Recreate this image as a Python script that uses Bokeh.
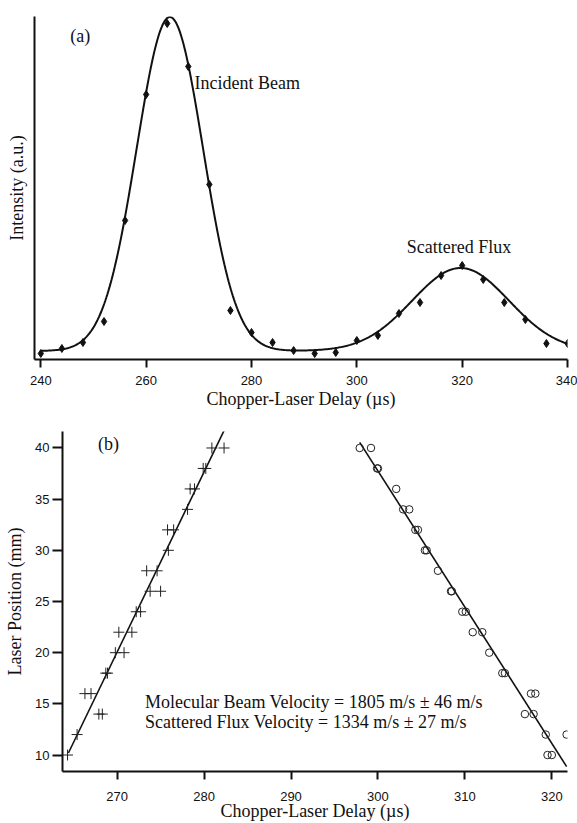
import numpy as np
from bokeh.plotting import figure
from bokeh.models import Range1d, FixedTicker
from bokeh.core.properties import value
from bokeh.embed import file_html
from bokeh.resources import INLINE

# ---------------- Panel (a) data ----------------
delay_a = [240, 244, 248, 252, 256, 260, 264, 268, 272, 276, 280, 284, 288,
           292, 296, 300, 304, 308, 312, 316, 320, 324, 328, 332, 336, 340]
intensity_a = [6, 11, 17, 38, 139, 265, 336, 293, 175, 49, 27, 17, 9,
               6, 7, 19, 24, 46, 57, 84, 94, 80, 57, 40, 16, 16]
# fit parameters (two gaussians on a baseline)
fit_baseline = 8.5
fit_amp = [334, 83]
fit_center = [264.5, 319.7]
fit_sigma = [6.3, 9.2]

# ---------------- Panel (b) data ----------------
pos_beam = [40, 40, 38, 38, 36, 36, 34, 32, 32, 30, 28, 28, 26, 26, 24, 24,
            22, 22, 20, 20, 18, 18, 16, 16, 14, 14, 12, 10]
delay_beam = [280.9, 282.3, 279.9, 280.2, 278.4, 278.9, 278.1, 275.8, 276.5, 275.9,
              273.4, 274.6, 273.8, 275.0, 272.2, 272.7, 270.2, 271.7, 269.8, 270.8,
              268.7, 268.9, 266.3, 267.0, 267.9, 268.3, 265.4, 264.3]
pos_flux = [40, 40, 38, 38, 36, 34, 34, 32, 32, 30, 30, 28, 26, 26, 24, 24,
            22, 22, 20, 18, 18, 16, 16, 14, 14, 12, 12, 10, 10]
delay_flux = [297.9, 299.2, 299.9, 300.0, 302.1, 302.9, 303.6, 304.3, 304.6, 305.4,
              305.6, 306.9, 308.4, 308.5, 309.7, 310.1, 310.9, 312.0, 312.8, 314.3,
              314.6, 317.6, 318.1, 316.9, 317.9, 319.3, 321.7, 319.5, 320.0]
fitline_beam_x = [264.4, 282.3]
fitline_beam_y = [10.2, 41.7]
fitline_flux_x = [297.9, 321.7]
fitline_flux_y = [40.55, 8.87]

xticks_a = [240, 260, 280, 300, 320, 340]
xticks_b = [270, 280, 290, 300, 310, 320]
yticks_b = [10, 15, 20, 25, 30, 35, 40]

SERIF = "Liberation Serif"
SANS = "Liberation Sans"
INK = "#111111"

def style_axes(p):
    for ax in (p.xaxis[0], p.yaxis[0]):
        ax.axis_line_width = 2
        ax.axis_line_color = INK
        ax.major_tick_line_width = 2
        ax.major_tick_line_color = INK
        ax.major_tick_in = 0
        ax.minor_tick_line_color = None
        ax.major_label_text_font = SANS
        ax.major_label_text_font_size = "13px"
        ax.major_label_text_color = INK
        ax.axis_label_text_font = SERIF
        ax.axis_label_text_font_size = "18px"
        ax.axis_label_text_font_style = "normal"
        ax.axis_label_text_color = INK
    p.xgrid.visible = False
    p.ygrid.visible = False
    p.outline_line_color = None

# ---------------- Figure (a) ----------------
pa = figure(width=577, height=418, output_backend="svg", toolbar_location=None,
            x_range=Range1d(238.8, 340), y_range=Range1d(0, 343),
            min_border_left=34, min_border_right=10, min_border_top=16,
            min_border_bottom=59)
style_axes(pa)
pa.xaxis.ticker = FixedTicker(ticks=xticks_a)
pa.xaxis.major_tick_out = 8
pa.xaxis.major_label_standoff = 8
pa.xaxis.axis_label = "Chopper-Laser Delay (µs)"
pa.xaxis.axis_label_standoff = 1
pa.yaxis.ticker = FixedTicker(ticks=[])
pa.yaxis.major_tick_out = 0
pa.yaxis.axis_label = "Intensity (a.u.)"
pa.yaxis.axis_label_standoff = 8

xf = np.linspace(240, 340, 500)
yf = fit_baseline + sum(a * np.exp(-(xf - c) ** 2 / (2 * s ** 2))
                        for a, c, s in zip(fit_amp, fit_center, fit_sigma))
pa.line(xf, yf, line_color=INK, line_width=2)
pa.scatter(delay_a, intensity_a, marker="diamond", size=8,
           fill_color=INK, line_color=INK)

pa.text(x=[245.6], y=[323.5], text=["(a)"], text_font=value(SERIF),
        text_font_size="18px", text_baseline="middle", text_color=INK)
pa.text(x=[269.2], y=[277], text=["Incident Beam"], text_font=value(SERIF),
        text_font_size="18px", text_baseline="middle", text_color=INK)
pa.text(x=[309.5], y=[112.3], text=["Scattered Flux"], text_font=value(SERIF),
        text_font_size="18px", text_baseline="middle", text_color=INK)

# ---------------- Figure (b) ----------------
pb = figure(width=577, height=405, output_backend="svg", toolbar_location=None,
            x_range=Range1d(263.72, 321.8), y_range=Range1d(8.39, 41.61),
            min_border_left=62, min_border_right=10, min_border_top=13,
            min_border_bottom=50)
style_axes(pb)
pb.xaxis.ticker = FixedTicker(ticks=xticks_b)
pb.xaxis.major_tick_out = 8
pb.xaxis.major_label_standoff = 12
pb.xaxis.axis_label = "Chopper-Laser Delay (µs)"
pb.xaxis.axis_label_standoff = -3
pb.yaxis.ticker = FixedTicker(ticks=yticks_b)
pb.yaxis.major_tick_out = 10
pb.yaxis.major_label_standoff = 3
pb.yaxis.axis_label = "Laser Position (mm)"
pb.yaxis.axis_label_standoff = 7

pb.line(fitline_beam_x, fitline_beam_y, line_color=INK, line_width=1.6)
pb.line(fitline_flux_x, fitline_flux_y, line_color=INK, line_width=1.6)
pb.scatter(delay_beam, pos_beam, marker="cross", size=11, line_color="#222222",
           line_width=1)
pb.scatter(delay_flux, pos_flux, marker="circle", size=7.5, fill_color=None,
           line_color="#222222", line_width=1)

pb.text(x=[267.8], y=[40.4], text=["(b)"], text_font=value(SERIF),
        text_font_size="18px", text_baseline="middle", text_color=INK)
pb.text(x=[273.2, 273.2], y=[15.18, 13.24],
        text=["Molecular Beam Velocity = 1805 m/s ± 46 m/s",
              "Scattered Flux Velocity = 1334 m/s ± 27 m/s"],
        text_font=value(SERIF), text_font_size="18px", text_baseline="middle",
        text_color=INK)

open("out.html", "w").write(file_html([pa, pb], INLINE))
